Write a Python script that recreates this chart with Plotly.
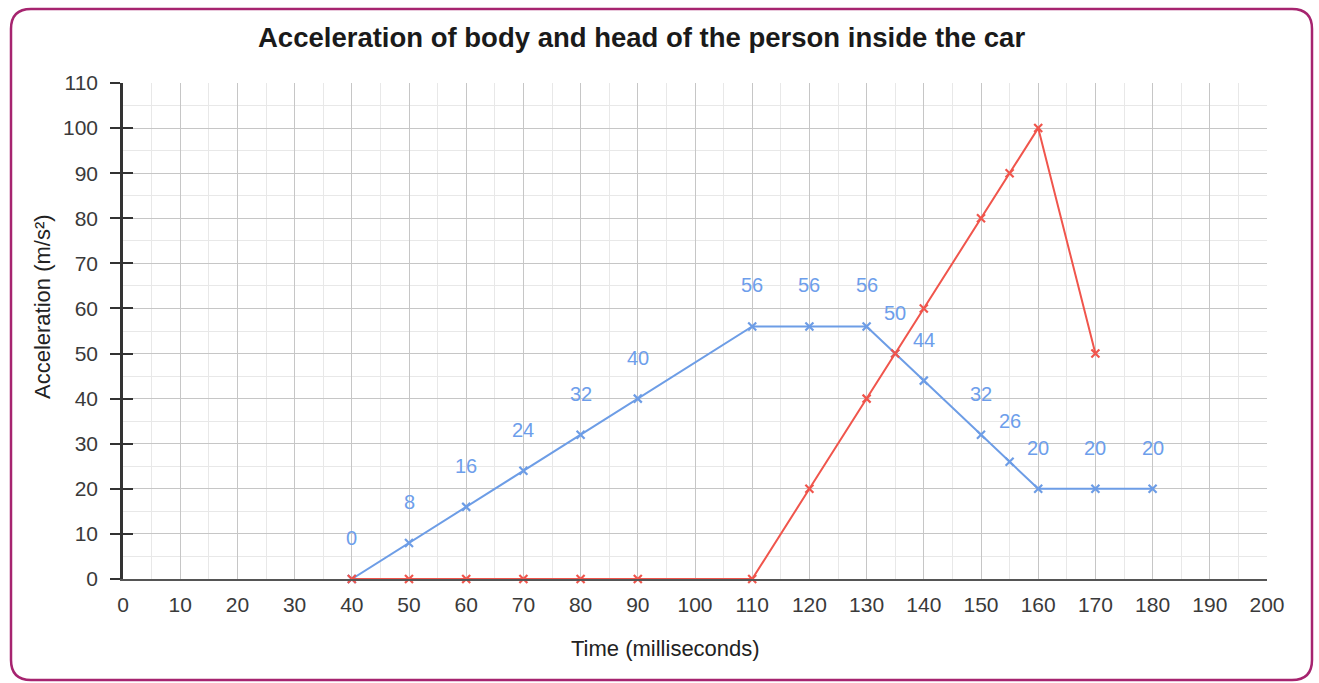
import plotly.graph_objects as go

# ---- data ----
body_time = [40, 50, 60, 70, 80, 90, 110, 120, 130, 135, 140, 150, 155, 160, 170, 180]
body_acc = [0, 8, 16, 24, 32, 40, 56, 56, 56, 50, 44, 32, 26, 20, 20, 20]
head_time = [40, 50, 60, 70, 80, 90, 110, 120, 130, 135, 140, 150, 155, 160, 170]
head_acc = [0, 0, 0, 0, 0, 0, 0, 20, 40, 50, 60, 80, 90, 100, 50]
x_ticks = list(range(0, 201, 10))
y_ticks = list(range(0, 111, 10))

W, H = 1319, 683
ML, MR, MT, MB = 123, 52, 83, 104
PW, PH = W - ML - MR, H - MT - MB

BLUE = "#6d9de6"
RED = "#f0554c"
FONT = "Liberation Sans, Arial, sans-serif"

fig = go.Figure()
fig.add_trace(go.Scatter(
    x=body_time, y=body_acc, mode="lines+markers", name="Body",
    line=dict(color=BLUE, width=2),
    marker=dict(symbol="x-thin", size=8, color=BLUE, line=dict(color=BLUE, width=2.2)),
    cliponaxis=False,
))
fig.add_trace(go.Scatter(
    x=head_time, y=head_acc, mode="lines+markers", name="Head",
    line=dict(color=RED, width=2),
    marker=dict(symbol="x-thin", size=8, color=RED, line=dict(color=RED, width=2.2)),
    cliponaxis=False,
))

# data labels for body series
for xv, yv in zip(body_time, body_acc):
    fig.add_annotation(x=xv, y=yv, text=str(yv), showarrow=False, yshift=41,
                       font=dict(family=FONT, size=20, color="#6d9eeb"), xanchor="center")

grid_major = "#c6c6c6"
grid_minor = "#e8e8e8"
TICKFONT = dict(family=FONT, size=21, color="#3a3a3a")

fig.update_layout(
    width=W, height=H, autosize=False,
    margin=dict(l=ML, r=MR, t=MT, b=MB),
    paper_bgcolor="white", plot_bgcolor="white",
    showlegend=False,
    font=dict(family=FONT, size=17, color="#444"),
    xaxis=dict(
        range=[0, 200], tickmode="array", tickvals=x_ticks, ticktext=[str(v) for v in x_ticks],
        showgrid=True, gridcolor=grid_major, gridwidth=1,
        minor=dict(dtick=5, tick0=0, showgrid=True, gridcolor=grid_minor, gridwidth=1, ticks=""),
        showline=True, linecolor="#555", linewidth=2, zeroline=False,
        ticks="", ticklabelstandoff=6,
        tickfont=TICKFONT,
    ),
    yaxis=dict(
        range=[0, 110], tickmode="array", tickvals=y_ticks, ticktext=[str(v) for v in y_ticks],
        showgrid=True, gridcolor=grid_major, gridwidth=1,
        minor=dict(dtick=5, tick0=0, showgrid=True, gridcolor=grid_minor, gridwidth=1, ticks=""),
        showline=True, linecolor="#333", linewidth=2.5, zeroline=False,
        ticks="outside", ticklen=10, tickwidth=2, tickcolor="#333",
        ticklabelstandoff=8,
        tickfont=TICKFONT,
    ),
    yaxis2=dict(
        overlaying="y", matches="y", range=[0, 110], tickmode="array", tickvals=y_ticks,
        showticklabels=False, showgrid=False, zeroline=False, showline=False,
        ticks="inside", ticklen=10, tickwidth=2, tickcolor="#333", side="left",
    ),
)
# dummy trace on yaxis2 to render inside ticks
fig.add_trace(go.Scatter(x=[None], y=[None], yaxis="y2", showlegend=False, hoverinfo="skip"))

# title and axis titles
fig.add_annotation(xref="paper", yref="paper", x=(641 - ML) / PW, y=(H - MB - 38) / PH,
                   text="<b>Acceleration of body and head of the person inside the car</b>",
                   showarrow=False, font=dict(family=FONT, size=27.5, color="#1a1a1a"),
                   xanchor="center", yanchor="middle")
fig.add_annotation(xref="paper", yref="paper", x=(665 - ML) / PW, y=(H - MB - 648) / PH,
                   text="Time (milliseconds)", showarrow=False,
                   font=dict(family=FONT, size=22, color="#222"), xanchor="center", yanchor="middle")
fig.add_annotation(xref="paper", yref="paper", x=(42 - ML) / PW, y=(H - MB - 307) / PH,
                   text="Acceleration (m/s²)", showarrow=False, textangle=-90,
                   font=dict(family=FONT, size=22, color="#222"), xanchor="center", yanchor="middle")

# rounded border around the whole picture
def px(xp):
    return (xp - ML) / PW

def py(yp):
    return (H - MB - yp) / PH

x0, x1, y0, y1, r = 11, 1312, 9, 680, 20
path = (
    f"M {px(x0 + r)},{py(y0)} L {px(x1 - r)},{py(y0)} "
    f"Q {px(x1)},{py(y0)} {px(x1)},{py(y0 + r)} "
    f"L {px(x1)},{py(y1 - r)} Q {px(x1)},{py(y1)} {px(x1 - r)},{py(y1)} "
    f"L {px(x0 + r)},{py(y1)} Q {px(x0)},{py(y1)} {px(x0)},{py(y1 - r)} "
    f"L {px(x0)},{py(y0 + r)} Q {px(x0)},{py(y0)} {px(x0 + r)},{py(y0)} Z"
)
fig.add_shape(type="path", xref="paper", yref="paper", path=path,
              line=dict(color="#a6246f", width=2.5), fillcolor="rgba(0,0,0,0)", layer="above")

fig.write_html("out.html", config={"displayModeBar": False},
               post_script="document.body.style.margin='0';document.body.style.overflow='hidden';")
